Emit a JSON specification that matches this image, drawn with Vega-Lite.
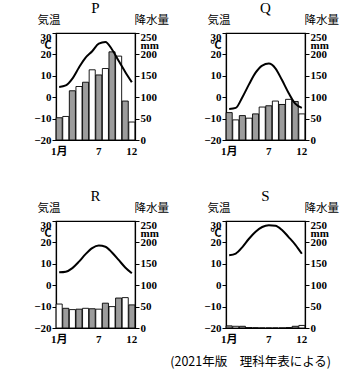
{
  "$schema": "https://vega.github.io/schema/vega-lite/v6.json",
  "background": "white",
  "padding": {"left": 33, "top": 0, "right": 2, "bottom": 2},
  "datasets": {
    "climate": [
      {"station": "P", "month": 1, "temp": 4.8, "precip": 52},
      {"station": "P", "month": 2, "temp": 5.5, "precip": 55},
      {"station": "P", "month": 3, "temp": 8.7, "precip": 115},
      {"station": "P", "month": 4, "temp": 13.9, "precip": 125},
      {"station": "P", "month": 5, "temp": 18.5, "precip": 135},
      {"station": "P", "month": 6, "temp": 21.5, "precip": 164},
      {"station": "P", "month": 7, "temp": 25, "precip": 152},
      {"station": "P", "month": 8, "temp": 25.8, "precip": 167},
      {"station": "P", "month": 9, "temp": 22.3, "precip": 206},
      {"station": "P", "month": 10, "temp": 17, "precip": 196},
      {"station": "P", "month": 11, "temp": 11.8, "precip": 91},
      {"station": "P", "month": 12, "temp": 7, "precip": 42},
      {"station": "Q", "month": 1, "temp": -5.5, "precip": 64},
      {"station": "Q", "month": 2, "temp": -5, "precip": 47},
      {"station": "Q", "month": 3, "temp": 0, "precip": 57},
      {"station": "Q", "month": 4, "temp": 6, "precip": 51},
      {"station": "Q", "month": 5, "temp": 11.5, "precip": 61},
      {"station": "Q", "month": 6, "temp": 14.8, "precip": 77},
      {"station": "Q", "month": 7, "temp": 15.7, "precip": 80},
      {"station": "Q", "month": 8, "temp": 13.5, "precip": 91},
      {"station": "Q", "month": 9, "temp": 8, "precip": 83},
      {"station": "Q", "month": 10, "temp": 2, "precip": 95},
      {"station": "Q", "month": 11, "temp": -3, "precip": 90},
      {"station": "Q", "month": 12, "temp": -5, "precip": 61},
      {"station": "R", "month": 1, "temp": 6, "precip": 56},
      {"station": "R", "month": 2, "temp": 6.3, "precip": 46},
      {"station": "R", "month": 3, "temp": 8, "precip": 43},
      {"station": "R", "month": 4, "temp": 11, "precip": 44},
      {"station": "R", "month": 5, "temp": 14.5, "precip": 46},
      {"station": "R", "month": 6, "temp": 17.3, "precip": 45},
      {"station": "R", "month": 7, "temp": 18.5, "precip": 44},
      {"station": "R", "month": 8, "temp": 18, "precip": 58},
      {"station": "R", "month": 9, "temp": 15.3, "precip": 50},
      {"station": "R", "month": 10, "temp": 11.8, "precip": 70},
      {"station": "R", "month": 11, "temp": 8.3, "precip": 71},
      {"station": "R", "month": 12, "temp": 5.6, "precip": 54},
      {"station": "S", "month": 1, "temp": 14, "precip": 5},
      {"station": "S", "month": 2, "temp": 14.8, "precip": 4},
      {"station": "S", "month": 3, "temp": 17.8, "precip": 4},
      {"station": "S", "month": 4, "temp": 21.7, "precip": 1},
      {"station": "S", "month": 5, "temp": 25, "precip": 0.5},
      {"station": "S", "month": 6, "temp": 27.2, "precip": 0},
      {"station": "S", "month": 7, "temp": 28, "precip": 0},
      {"station": "S", "month": 8, "temp": 27.8, "precip": 0},
      {"station": "S", "month": 9, "temp": 25.8, "precip": 0},
      {"station": "S", "month": 10, "temp": 22.5, "precip": 1},
      {"station": "S", "month": 11, "temp": 19, "precip": 4},
      {"station": "S", "month": 12, "temp": 14.7, "precip": 6}
    ]
  },
  "title": {"text": "(2021年版　理科年表による)", "orient": "bottom", "anchor": "end", "font": "Noto Sans CJK JP", "fontSize": 12.5, "fontWeight": "normal", "color": "black", "offset": 11, "dx": -8},
  "vconcat": [
    {"hconcat": [
      {
        "width": 79, "height": 107,
        "title": {"text": "P"},
        "data": {"name": "climate"},
        "transform": [{"filter": "datum.station == 'P'"}],
        "encoding": {"x": {"field": "month", "type": "ordinal", "title": null, "scale": {"paddingInner": 0.08, "paddingOuter": 0.02},
          "axis": {"labelAngle": 0, "ticks": false, "labelPadding": 5, "labelExpr": "datum.value == 1 ? '1月' : (datum.value == 7 || datum.value == 12) ? datum.label : ''"}}},
        "layer": [
          {"mark": {"type": "bar", "stroke": "black", "strokeWidth": 0.9},
           "encoding": {
             "y": {"field": "precip", "type": "quantitative", "scale": {"domain": [0, 250]},
               "axis": {"orient": "right", "values": [0, 50, 100, 150, 200, 250], "title": "降水量", "titleAngle": 0, "titleAlign": "left", "titleBaseline": "bottom", "titleX": -1, "titleY": -8,
                 "labelExpr": "datum.value == 250 ? ['250', 'mm'] : datum.label", "labelOffset": {"condition": {"test": "datum.value == 250", "value": 4.25}, "value": 0}}},
             "fill": {"condition": {"test": "datum.month % 2 == 1", "value": "#9c9c9c"}, "value": "white"}
           }},
          {"mark": {"type": "line", "color": "black", "strokeWidth": 2, "interpolate": "monotone"},
           "encoding": {
             "x": {"field": "month", "type": "ordinal", "title": null, "axis": {"orient": "top", "labels": false, "ticks": false, "domain": true}},
             "y": {"field": "temp", "type": "quantitative", "scale": {"domain": [-20, 30]},
               "axis": {"orient": "left", "values": [-20, -10, 0, 10, 20, 30], "title": "気温", "titleAngle": 0, "titleAlign": "right", "titleBaseline": "bottom", "titleX": 4, "titleY": -8,
                 "labelExpr": "datum.value == 30 ? ['30', '℃'] : datum.label", "labelOffset": {"condition": {"test": "datum.value == 30", "value": 4.25}, "value": 0}}}
           }}
        ],
        "resolve": {"scale": {"y": "independent"}, "axis": {"x": "independent"}}
      },
      {
        "width": 79, "height": 107,
        "title": {"text": "Q"},
        "data": {"name": "climate"},
        "transform": [{"filter": "datum.station == 'Q'"}],
        "encoding": {"x": {"field": "month", "type": "ordinal", "title": null, "scale": {"paddingInner": 0.08, "paddingOuter": 0.02},
          "axis": {"labelAngle": 0, "ticks": false, "labelPadding": 5, "labelExpr": "datum.value == 1 ? '1月' : (datum.value == 7 || datum.value == 12) ? datum.label : ''"}}},
        "layer": [
          {"mark": {"type": "bar", "stroke": "black", "strokeWidth": 0.9},
           "encoding": {
             "y": {"field": "precip", "type": "quantitative", "scale": {"domain": [0, 250]},
               "axis": {"orient": "right", "values": [0, 50, 100, 150, 200, 250], "title": "降水量", "titleAngle": 0, "titleAlign": "left", "titleBaseline": "bottom", "titleX": -1, "titleY": -8,
                 "labelExpr": "datum.value == 250 ? ['250', 'mm'] : datum.label", "labelOffset": {"condition": {"test": "datum.value == 250", "value": 4.25}, "value": 0}}},
             "fill": {"condition": {"test": "datum.month % 2 == 1", "value": "#9c9c9c"}, "value": "white"}
           }},
          {"mark": {"type": "line", "color": "black", "strokeWidth": 2, "interpolate": "monotone"},
           "encoding": {
             "x": {"field": "month", "type": "ordinal", "title": null, "axis": {"orient": "top", "labels": false, "ticks": false, "domain": true}},
             "y": {"field": "temp", "type": "quantitative", "scale": {"domain": [-20, 30]},
               "axis": {"orient": "left", "values": [-20, -10, 0, 10, 20, 30], "title": "気温", "titleAngle": 0, "titleAlign": "right", "titleBaseline": "bottom", "titleX": 4, "titleY": -8,
                 "labelExpr": "datum.value == 30 ? ['30', '℃'] : datum.label", "labelOffset": {"condition": {"test": "datum.value == 30", "value": 4.25}, "value": 0}}}
           }}
        ],
        "resolve": {"scale": {"y": "independent"}, "axis": {"x": "independent"}}
      }
    ]},
    {"hconcat": [
      {
        "width": 79, "height": 107,
        "title": {"text": "R"},
        "data": {"name": "climate"},
        "transform": [{"filter": "datum.station == 'R'"}],
        "encoding": {"x": {"field": "month", "type": "ordinal", "title": null, "scale": {"paddingInner": 0.08, "paddingOuter": 0.02},
          "axis": {"labelAngle": 0, "ticks": false, "labelPadding": 5, "labelExpr": "datum.value == 1 ? '1月' : (datum.value == 7 || datum.value == 12) ? datum.label : ''"}}},
        "layer": [
          {"mark": {"type": "bar", "stroke": "black", "strokeWidth": 0.9},
           "encoding": {
             "y": {"field": "precip", "type": "quantitative", "scale": {"domain": [0, 250]},
               "axis": {"orient": "right", "values": [0, 50, 100, 150, 200, 250], "title": "降水量", "titleAngle": 0, "titleAlign": "left", "titleBaseline": "bottom", "titleX": -1, "titleY": -8,
                 "labelExpr": "datum.value == 250 ? ['250', 'mm'] : datum.label", "labelOffset": {"condition": {"test": "datum.value == 250", "value": 4.25}, "value": 0}}},
             "fill": {"condition": {"test": "datum.month % 2 == 0", "value": "#9c9c9c"}, "value": "white"}
           }},
          {"mark": {"type": "line", "color": "black", "strokeWidth": 2, "interpolate": "monotone"},
           "encoding": {
             "x": {"field": "month", "type": "ordinal", "title": null, "axis": {"orient": "top", "labels": false, "ticks": false, "domain": true}},
             "y": {"field": "temp", "type": "quantitative", "scale": {"domain": [-20, 30]},
               "axis": {"orient": "left", "values": [-20, -10, 0, 10, 20, 30], "title": "気温", "titleAngle": 0, "titleAlign": "right", "titleBaseline": "bottom", "titleX": 4, "titleY": -8,
                 "labelExpr": "datum.value == 30 ? ['30', '℃'] : datum.label", "labelOffset": {"condition": {"test": "datum.value == 30", "value": 4.25}, "value": 0}}}
           }}
        ],
        "resolve": {"scale": {"y": "independent"}, "axis": {"x": "independent"}}
      },
      {
        "width": 79, "height": 107,
        "title": {"text": "S"},
        "data": {"name": "climate"},
        "transform": [{"filter": "datum.station == 'S'"}],
        "encoding": {"x": {"field": "month", "type": "ordinal", "title": null, "scale": {"paddingInner": 0.08, "paddingOuter": 0.02},
          "axis": {"labelAngle": 0, "ticks": false, "labelPadding": 5, "labelExpr": "datum.value == 1 ? '1月' : (datum.value == 7 || datum.value == 12) ? datum.label : ''"}}},
        "layer": [
          {"mark": {"type": "bar", "stroke": "black", "strokeWidth": 0.9},
           "encoding": {
             "y": {"field": "precip", "type": "quantitative", "scale": {"domain": [0, 250]},
               "axis": {"orient": "right", "values": [0, 50, 100, 150, 200, 250], "title": "降水量", "titleAngle": 0, "titleAlign": "left", "titleBaseline": "bottom", "titleX": -1, "titleY": -8,
                 "labelExpr": "datum.value == 250 ? ['250', 'mm'] : datum.label", "labelOffset": {"condition": {"test": "datum.value == 250", "value": 4.25}, "value": 0}}},
             "fill": {"condition": {"test": "datum.month % 2 == 1", "value": "#9c9c9c"}, "value": "white"}
           }},
          {"mark": {"type": "line", "color": "black", "strokeWidth": 2, "interpolate": "monotone"},
           "encoding": {
             "x": {"field": "month", "type": "ordinal", "title": null, "axis": {"orient": "top", "labels": false, "ticks": false, "domain": true}},
             "y": {"field": "temp", "type": "quantitative", "scale": {"domain": [-20, 30]},
               "axis": {"orient": "left", "values": [-20, -10, 0, 10, 20, 30], "title": "気温", "titleAngle": 0, "titleAlign": "right", "titleBaseline": "bottom", "titleX": 4, "titleY": -8,
                 "labelExpr": "datum.value == 30 ? ['30', '℃'] : datum.label", "labelOffset": {"condition": {"test": "datum.value == 30", "value": 4.25}, "value": 0}}}
           }}
        ],
        "resolve": {"scale": {"y": "independent"}, "axis": {"x": "independent"}}
      }
    ]}
  ],
  "spacing": 31,
  "config": {
    "concat": {"spacing": 33},
    "view": {"stroke": "black", "strokeWidth": 1.2},
    "axis": {"grid": false, "domainColor": "black", "domainWidth": 1.2, "tickColor": "black", "tickSize": 4, "labelPadding": 1, "labelColor": "black", "labelFont": "Liberation Serif, Noto Sans CJK JP", "labelFontSize": 11, "labelFontWeight": "bold", "labelOverlap": false, "labelBound": false, "labelFlush": false, "titleFont": "Noto Sans CJK JP", "titleFontSize": 11.5, "titleFontWeight": "normal", "titleColor": "black", "titlePadding": 0, "labelLineHeight": 8.5},
    "title": {"font": "Liberation Serif", "fontSize": 15, "fontWeight": "normal", "color": "black", "offset": -2}
  }
}
